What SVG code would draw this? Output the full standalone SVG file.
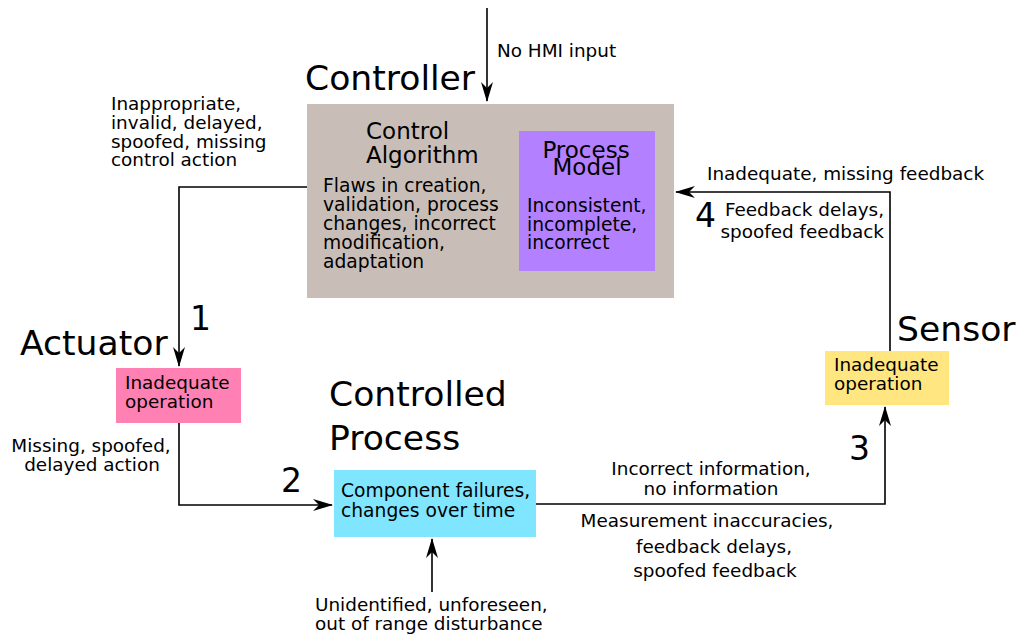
<svg xmlns="http://www.w3.org/2000/svg" width="1021" height="639" viewBox="0 0 1021 639">
<defs>
<marker id="ah" viewBox="0 0 20 12" refX="19" refY="6" markerWidth="20" markerHeight="12" markerUnits="userSpaceOnUse" orient="auto">
<path d="M0,0 L20,6 L0,12 L6,6 Z" fill="#000"/>
</marker>
<style>
text{font-family:"DejaVu Sans","Liberation Sans",sans-serif;fill:#000}
.s{font-size:18.4px}
.m{font-size:18.7px}
.t{font-size:34.6px}
.n{font-size:33px}
.h{font-size:23px}
.c{stroke:#000;stroke-width:1.6;fill:none;marker-end:url(#ah)}
</style>
</defs>
<rect width="1021" height="639" fill="#fff"/>
<g id="connectors">
<path class="c" d="M487,8 V101"/>
<path class="c" d="M307,187 H179 V366"/>
<path class="c" d="M179,423 V505 H332"/>
<path class="c" d="M432,592 V539"/>
<path class="c" d="M536,504 H885 V407"/>
<path class="c" d="M890,351 V192 H676"/>
</g>
<g id="controller">
<rect x="307" y="104" width="367" height="194" fill="#c8beb7"/>
<text class="t" x="305" y="90">Controller</text>
<text class="h" x="366" y="139">Control</text>
<text class="h" x="366" y="163">Algorithm</text>
<text class="m" x="323" y="192">Flaws in creation,</text>
<text class="m" x="323" y="211">validation, process</text>
<text class="m" x="323" y="230">changes, incorrect</text>
<text class="m" x="323" y="249">modification,</text>
<text class="m" x="323" y="268">adaptation</text>
</g>
<g id="process-model">
<rect x="519" y="131" width="136" height="140" fill="#b380ff"/>
<text class="h" x="586" y="158" text-anchor="middle">Process</text>
<text class="h" x="587" y="175" text-anchor="middle">Model</text>
<text class="m" x="527" y="212">Inconsistent,</text>
<text class="m" x="527" y="231">incomplete,</text>
<text class="m" x="527" y="249">incorrect</text>
</g>
<g id="actuator">
<rect x="116" y="368" width="125" height="55" fill="#ff80b2"/>
<text class="t" x="20" y="355">Actuator</text>
<text class="s" x="125" y="389">Inadequate</text>
<text class="s" x="125" y="408">operation</text>
</g>
<g id="controlled-process">
<rect x="334" y="470" width="202" height="67" fill="#80e5ff"/>
<text class="t" x="329" y="406">Controlled</text>
<text class="t" x="329" y="450">Process</text>
<text class="m" x="341" y="497">Component failures,</text>
<text class="m" x="341" y="517">changes over time</text>
</g>
<g id="sensor">
<rect x="825" y="351" width="124" height="54" fill="#ffe680"/>
<text class="t" x="897" y="341">Sensor</text>
<text class="s" x="834" y="371">Inadequate</text>
<text class="s" x="834" y="390">operation</text>
</g>
<g id="labels">
<text class="s" x="497" y="57">No HMI input</text>
<text class="s" x="111" y="110">Inappropriate,</text>
<text class="s" x="111" y="129">invalid, delayed,</text>
<text class="s" x="111" y="148">spoofed, missing</text>
<text class="s" x="111" y="166">control action</text>
<text class="n" x="190" y="330">1</text>
<text class="s" x="91" y="452" text-anchor="middle">Missing, spoofed,</text>
<text class="s" x="92" y="471" text-anchor="middle">delayed action</text>
<text class="n" x="281" y="492">2</text>
<text class="s" x="315" y="611">Unidentified, unforeseen,</text>
<text class="s" x="315" y="630">out of range disturbance</text>
<text class="s" x="711" y="475" text-anchor="middle">Incorrect information,</text>
<text class="s" x="711" y="495" text-anchor="middle">no information</text>
<text class="s" x="707" y="527" text-anchor="middle">Measurement inaccuracies,</text>
<text class="s" x="714" y="553" text-anchor="middle">feedback delays,</text>
<text class="s" x="715" y="577" text-anchor="middle">spoofed feedback</text>
<text class="n" x="849" y="460">3</text>
<text class="s" x="707" y="180">Inadequate, missing feedback</text>
<text class="n" x="695" y="227">4</text>
<text class="s" x="884" y="216" text-anchor="end">Feedback delays,</text>
<text class="s" x="884" y="238" text-anchor="end">spoofed feedback</text>
</g>
</svg>
